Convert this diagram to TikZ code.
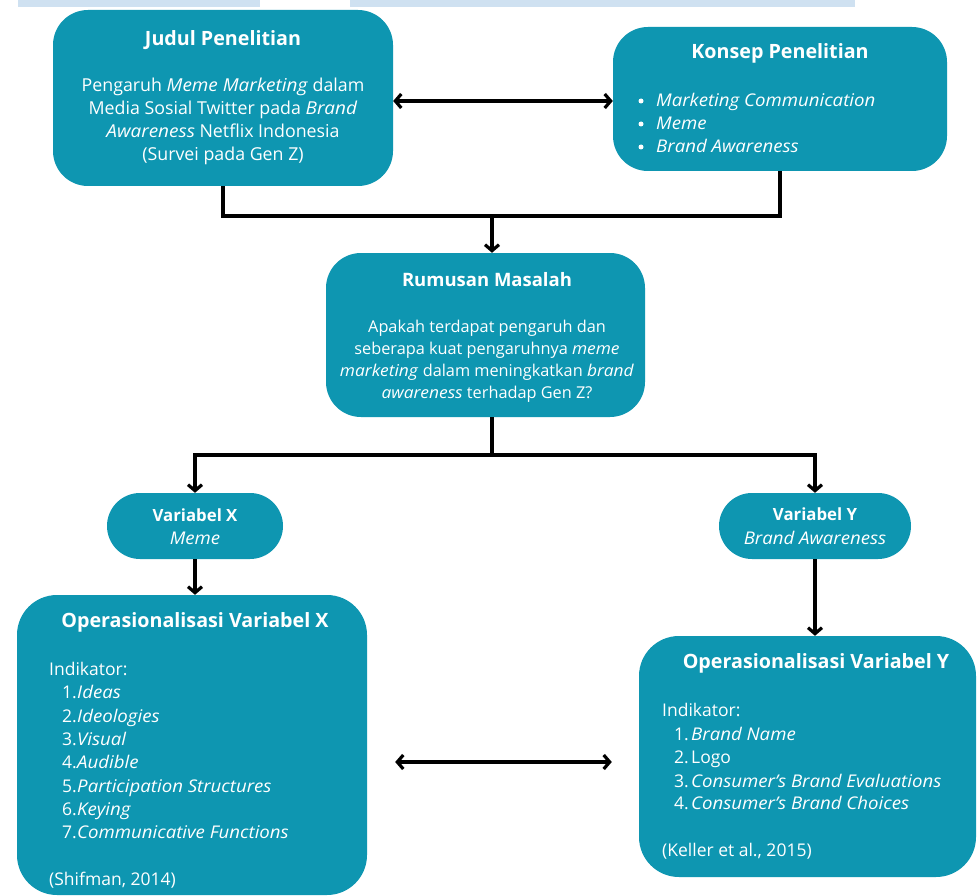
\documentclass[tikz,border=0pt]{standalone}
\usepackage{fontspec}
\setmainfont{Open Sans}[ItalicFeatures={FakeStretch=1.065}]
\usetikzlibrary{arrows.meta,calc}
\definecolor{tealbox}{HTML}{0E96B1}
\definecolor{topbar}{HTML}{CFE1F1}
\begin{document}
\begin{tikzpicture}[x=1pt,y=-1pt,
  box/.style={fill=tealbox, draw=none, rectangle, rounded corners=35pt, inner sep=0pt},
  conn/.style={line width=3.2pt, black},
  tip/.tip={Straight Barb[length=6pt,width=14pt]},
  arr/.style={conn, -tip},
  darr/.style={conn, tip-tip},
  txt/.style={text=white, inner sep=0pt, font=\fontsize{17.5}{21}\selectfont},
  jtxt/.style={txt, font=\fontsize{17.8}{21}\selectfont},
  rtxt/.style={txt, font=\fontsize{16.3}{20}\selectfont},
  hd/.style={text=white, inner sep=0pt, font=\fontsize{19.7}{23}\selectfont\bfseries},
  rhd/.style={hd, font=\fontsize{18.5}{22}\selectfont\bfseries},
  vhd/.style={text=white, inner sep=0pt, font=\fontsize{16.8}{20}\selectfont\bfseries},
  dot/.style={circle, fill=white, draw=none, inner sep=0pt, minimum size=5pt}]
\useasboundingbox (0,0) rectangle (977,896);
\fill[white] (0,0) rectangle (977,896);
% top bars
\fill[topbar] (18,0) rectangle (260,7);
\fill[topbar] (350,0) rectangle (855,7);
% boxes
\node[box, minimum width=340pt, minimum height=176pt] (judul) at (223,98) {};
\node[box, minimum width=334pt, minimum height=144pt] (konsep) at (780,99) {};
\node[box, minimum width=319pt, minimum height=164pt] (rumusan) at (485.5,335) {};
\node[box, rounded corners=33pt, minimum width=176pt, minimum height=66pt] (varX) at (195,526) {};
\node[box, rounded corners=33pt, minimum width=192pt, minimum height=66pt] (varY) at (815,526) {};
\node[box, rounded corners=40pt, minimum width=350pt, minimum height=300pt] (opX) at (192,745) {};
\node[box, rounded corners=40pt, minimum width=337pt, minimum height=241pt] (opY) at (807.5,756.5) {};
% connectors
\coordinate (jn) at (492,216);
\coordinate (sp) at (492,455);
\draw[darr] (judul.east |- 0,101) -- (konsep.west |- 0,101);
\draw[conn] (judul.south) -- (judul.south |- jn) -- (konsep.south |- jn) -- (konsep.south);
\draw[arr] (jn) -- (jn |- rumusan.north);
\draw[conn] (rumusan.south -| jn) -- (sp);
\draw[arr] (sp) -| (varX.north);
\draw[arr] (sp) -| (varY.north);
\draw[arr] (varX.south) -- (varX.south |- opX.north);
\draw[arr] (varY.south) -- (varY.south |- opY.north);
\draw[darr, shorten <=28pt, shorten >=27pt] (opX.east |- 0,762) -- (opY.west |- 0,762);
% Judul text
\node[hd, anchor=base] (jh) at (223,46) {Judul Penelitian};
\node[jtxt, anchor=base] (j1) at (223,92) {Pengaruh \textit{Meme Marketing} dalam};
\node[jtxt, anchor=base] (j2) at (223,115) {Media Sosial Twitter pada \textit{Brand}};
\node[jtxt, anchor=base] (j3) at (223,138) {\textit{Awareness} Netflix Indonesia};
\node[jtxt, anchor=base] (j4) at (223,161) {(Survei pada Gen Z)};
% Konsep text
\node[hd, anchor=base] (kh) at (780,59) {Konsep Penelitian};
\node[dot] (kb1) at (641,101) {};
\node[txt, anchor=base west] (k1) at (656,107) {\textit{Marketing Communication}};
\node[dot] (kb2) at (641,124) {};
\node[txt, anchor=base west] (k2) at (656,130) {\textit{Meme}};
\node[dot] (kb3) at (641,147) {};
\node[txt, anchor=base west] (k3) at (656,153) {\textit{Brand Awareness}};
% Rumusan text
\node[rhd, anchor=base] (rh) at (487,286) {Rumusan Masalah};
\node[rtxt, anchor=base] (r1) at (487,332) {Apakah terdapat pengaruh dan};
\node[rtxt, anchor=base] (r2) at (487,354) {seberapa kuat pengaruhnya \textit{meme}};
\node[rtxt, anchor=base] (r3) at (487,376) {\textit{marketing} dalam meningkatkan \textit{brand}};
\node[rtxt, anchor=base] (r4) at (487,398) {\textit{awareness} terhadap Gen Z?};
% Variabel
\node[vhd, anchor=base] (vxh) at (195,521) {Variabel X};
\node[txt, anchor=base] (vx) at (195,544) {\textit{Meme}};
\node[vhd, anchor=base] (vyh) at (815,520) {Variabel Y};
\node[txt, anchor=base] (vy) at (815,544) {\textit{Brand Awareness}};
% Op X
\node[hd, anchor=base] (oxh) at (195,627) {Operasionalisasi Variabel X};
\node[txt, anchor=base west] (oxi) at (49,675) {Indikator:};
\foreach \n/\t/\yy in {1/Ideas/698, 2/Ideologies/722, 3/Visual/745, 4/Audible/768, 5/Participation Structures/792, 6/Keying/815, 7/Communicative Functions/838}{
  \node[txt, anchor=base west] (oxn\n) at (62,\yy) {\n.};
  \node[txt, anchor=base west] (oxt\n) at (77,\yy) {\textit{\t}};
}
\node[txt, anchor=base west] (oxs) at (49,885) {(Shifman, 2014)};
% Op Y
\node[hd, anchor=base] (oyh) at (816,668) {Operasionalisasi Variabel Y};
\node[txt, anchor=base west] (oyi) at (662,716) {Indikator:};
\node[txt, anchor=base west] (oyn1) at (674,740) {1.};
\node[txt, anchor=base west] (oyt1) at (691,740) {\textit{Brand Name}};
\node[txt, anchor=base west] (oyn2) at (674,763) {2.};
\node[txt, anchor=base west] (oyt2) at (691,763) {Logo};
\node[txt, anchor=base west] (oyn3) at (674,787) {3.};
\node[txt, anchor=base west] (oyt3) at (691,787) {\textit{Consumer’s Brand Evaluations}};
\node[txt, anchor=base west] (oyn4) at (674,809) {4.};
\node[txt, anchor=base west] (oyt4) at (691,809) {\textit{Consumer’s Brand Choices}};
\node[txt, anchor=base west] (oys) at (662,856) {(Keller et al., 2015)};
\end{tikzpicture}
\end{document}
